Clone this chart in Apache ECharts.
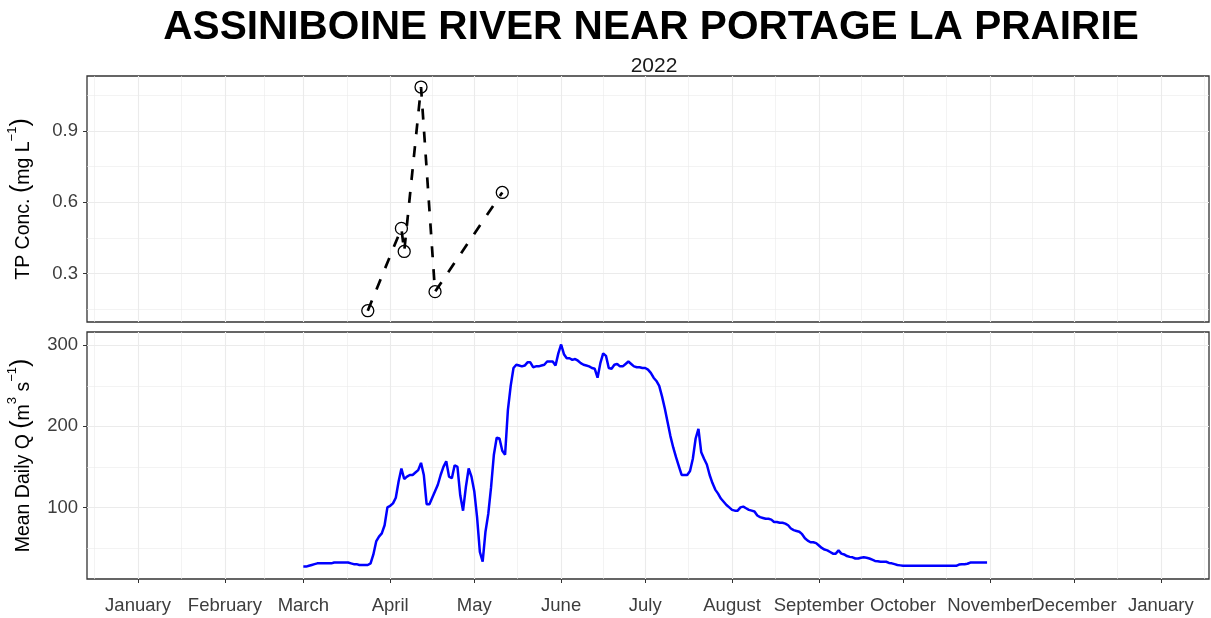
<!DOCTYPE html>
<html><head><meta charset="utf-8">
<script src="https://cdn.jsdelivr.net/npm/echarts@6/dist/echarts.min.js"></script>
<style>html,body{margin:0;padding:0;background:#fff}#c{width:1211px;height:618px}</style>
</head><body><div id="c"></div>
<script>
const TITLE = 'ASSINIBOINE RIVER NEAR PORTAGE LA PRAIRIE';
const SUBTITLE = '2022';
const MONTH_LABELS = ['January','February','March','April','May','June','July','August','September','October','November','December'];
const MONTH_TICKS = ['2022-01-01','2022-02-01','2022-03-01','2022-04-01','2022-05-01','2022-06-01','2022-07-01','2022-08-01','2022-09-01','2022-10-01','2022-11-01','2022-12-01','2023-01-01'];
const MONTH_EDGES = ['2021-12-01','2023-02-01'];
const TP_DATES = ['2022-03-24','2022-04-05','2022-04-06','2022-04-12','2022-04-17','2022-05-11'];
const TP_VALUES = [0.144, 0.49, 0.393, 1.084, 0.224, 0.641];
const TP_TICKS = [0.3, 0.6, 0.9];
const TP_MINOR = [0.15, 0.45, 0.75, 1.05];
const Q_START = '2022-03-01';
const Q_VALUES = [
 // March
 27,27,28,29,30,31,31,31,31,31,31,32,32,32,32,32,32,31,30,30,29,29,29,29,31,42,58,64,68,78,100,
 // April
 102,105,112,132,148,135,138,140,140,143,146,155,140,104,104,112,120,128,140,150,157,138,136,152,150,115,96,125,148,138,
 // May
 120,88,45,33,70,92,125,165,186,185,170,165,220,250,272,276,275,274,275,279,279,273,274,274,275,276,280,280,280,275,290,
 // June
 301,289,284,284,282,283,281,278,276,275,274,272,271,260,278,290,287,272,271,276,277,274,274,277,280,277,274,273,273,272,
 // July
 272,270,266,260,256,250,237,222,205,188,174,162,151,140,140,140,145,160,185,197,168,160,153,140,130,122,117,111,107,103,100,
 // August
 97,96,96,100,101,99,97,96,95,90,88,87,86,86,85,82,82,81,81,80,78,74,72,71,70,67,62,59,57,57,56,
 // September
 53,50,48,47,45,43,43,47,43,42,40,39,38.5,37,37,38,38.5,38,37,35.5,34,33.5,33,33,33,31.5,31,30,29,28.5,
 // October
 28,28,28,28,28,28,28,28,28,28,28,28,28,28,28,28,28,28,28,28,29.5,30,30,30.5,32,32,32,32,32,32,32
];
const Q_TICKS = [100, 200, 300];
const Q_MINOR = [50, 150, 250];

const DAY = 86400000;
function d(s){ const p = s.split('-').map(Number); return Date.UTC(p[0], p[1]-1, p[2]); }
const majorX = MONTH_TICKS.map(d);
const allMonths = [d(MONTH_EDGES[0])].concat(majorX, [d(MONTH_EDGES[1])]);
const minorX = [];
for (let i = 0; i < allMonths.length - 1; i++) minorX.push((allMonths[i] + allMonths[i+1]) / 2);
const XMIN = d('2022-01-01') - 18.2 * DAY;
const XMAX = d('2022-12-31') + 18.2 * DAY;

const tpData = TP_DATES.map((s, i) => [d(s), TP_VALUES[i]]);
const q0 = d(Q_START);
const qData = Q_VALUES.map((v, i) => [q0 + i * DAY, v]);

const FONT = 'Liberation Sans, Arial, sans-serif';
const LABEL_COLOR = '#3d3d3d';
const GRID_MAJOR = {show: true, lineStyle: {color: '#ebebeb', width: 1.1}};
const GRID_MINOR = {show: true, lineStyle: {color: '#ebebeb', width: 0.6}};
const NAME_RICH = {
  a: {fontSize: 19.5, color: '#000', fontFamily: FONT, lineHeight: 28, verticalAlign: 'bottom'},
  p: {fontSize: 25, color: '#000', fontFamily: FONT, lineHeight: 28, verticalAlign: 'bottom'},
  s: {fontSize: 13, color: '#000', fontFamily: FONT, lineHeight: 28, verticalAlign: 'top'}
};

function xAx(grid, vals, major, labels) {
  return {
    gridIndex: grid, type: 'value', min: XMIN, max: XMAX, position: 'bottom',
    axisLine: {show: false},
    axisTick: {show: labels, customValues: vals, length: 4, lineStyle: {color: '#333', width: 1}},
    axisLabel: {show: labels, customValues: vals, margin: 17, fontSize: 18.5, color: LABEL_COLOR, fontFamily: FONT,
      formatter: v => MONTH_LABELS[new Date(v).getUTCMonth()]},
    splitLine: major ? GRID_MAJOR : GRID_MINOR
  };
}
function yAx(grid, vals, major, min, max, name) {
  return {
    gridIndex: grid, type: 'value', min: min, max: max, position: 'left',
    name: major ? name : '', nameLocation: 'middle', nameGap: 53,
    nameTextStyle: {rich: NAME_RICH},
    axisLine: {show: false},
    axisTick: {show: major, customValues: vals, length: 4, lineStyle: {color: '#333', width: 1}},
    axisLabel: {show: major, customValues: vals, margin: 9, fontSize: 18.5, color: LABEL_COLOR, fontFamily: FONT},
    splitLine: major ? GRID_MAJOR : GRID_MINOR
  };
}

const chart = echarts.init(document.getElementById('c'), null, {renderer: 'canvas'});
chart.setOption({
  animation: false,
  backgroundColor: '#fff',
  title: [
    {text: TITLE, left: 646, top: 2, textAlign: 'center',
     textStyle: {fontSize: 40.6, fontWeight: 'bold', color: '#000', fontFamily: FONT}},
    {text: SUBTITLE, left: 649, top: 51, textAlign: 'center',
     textStyle: {fontSize: 21, fontWeight: 'normal', color: '#1a1a1a', fontFamily: FONT}}
  ],
  grid: [
    {left: 87, right: 2, top: 76, height: 246, show: true, borderColor: '#333', borderWidth: 1.3, backgroundColor: 'transparent', containLabel: false, outerBoundsMode: 'none'},
    {left: 87, right: 2, top: 332, height: 247, show: true, borderColor: '#333', borderWidth: 1.3, backgroundColor: 'transparent', containLabel: false, outerBoundsMode: 'none'}
  ],
  xAxis: [
    xAx(0, majorX, true, false),
    xAx(0, minorX, false, false),
    xAx(1, majorX, true, true),
    xAx(1, minorX, false, false)
  ],
  yAxis: [
    yAx(0, TP_TICKS, true, 0.0965, 1.1305, '{a|TP Conc. }{p|(}{a|mg L}{s|−1}{p|)}'),
    yAx(0, TP_MINOR, false, 0.0965, 1.1305),
    yAx(1, Q_TICKS, true, 11.7, 316.4, '{a|Mean Daily Q }{p|(}{a|m}{s|3}{a| s}{s|−1}{p|)}'),
    yAx(1, Q_MINOR, false, 11.7, 316.4)
  ],
  series: [
    {type: 'line', xAxisIndex: 0, yAxisIndex: 0, data: tpData,
     lineStyle: {color: '#000', width: 2.7, type: [11, 12]},
     symbol: 'circle', symbolSize: 12, showSymbol: true,
     itemStyle: {color: 'rgba(0,0,0,0)', borderColor: '#000', borderWidth: 1.3},
     emphasis: {disabled: true}, z: 5},
    {type: 'line', xAxisIndex: 2, yAxisIndex: 2, data: qData,
     lineStyle: {color: '#0000ff', width: 2.5}, showSymbol: false, symbol: 'none',
     emphasis: {disabled: true}, z: 5}
  ]
});
</script></body></html>
